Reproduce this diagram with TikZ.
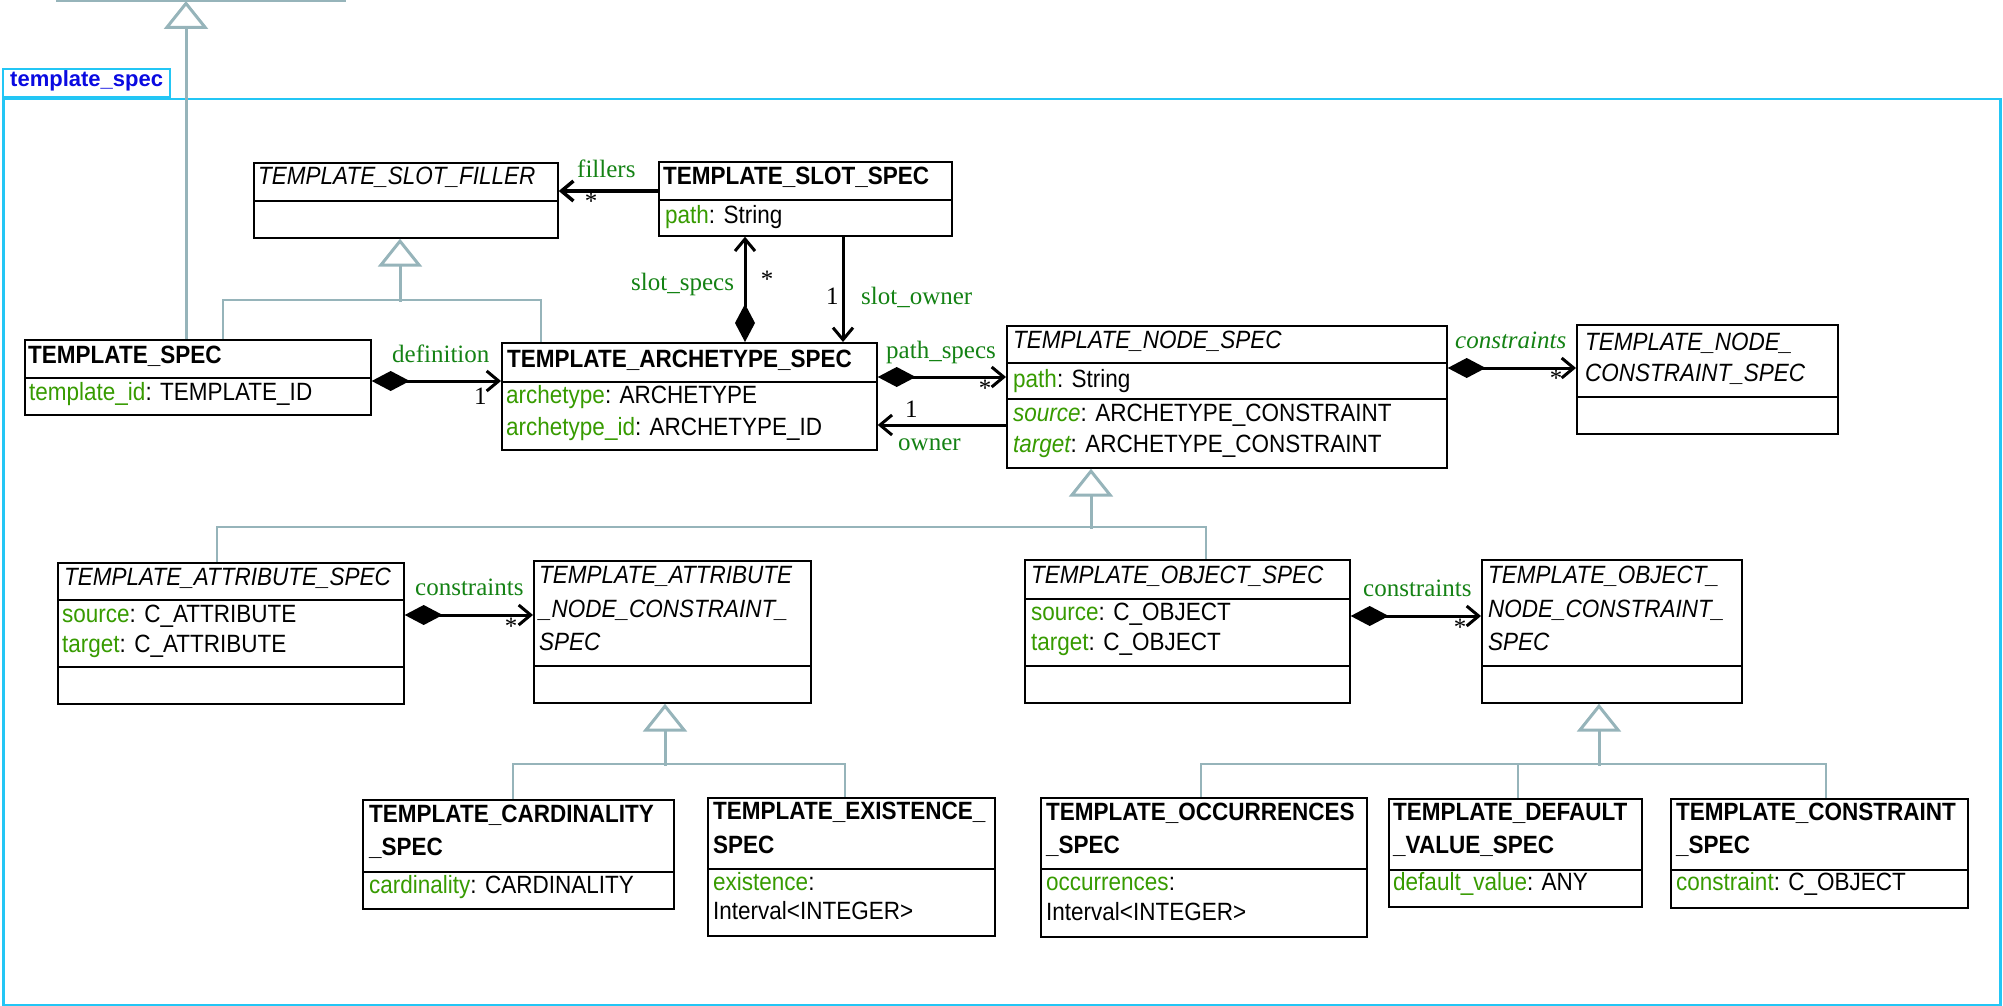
\documentclass[tikz,border=0pt]{standalone}
\usepackage{fontspec}
\setmainfont[FakeStretch=0.9]{Liberation Sans}
\newfontfamily\plainsans{Liberation Sans}
\newfontfamily\lblfont{Liberation Serif}
\usetikzlibrary{arrows.meta,calc}
\definecolor{pkg}{RGB}{35,198,245}
\definecolor{pkgtext}{RGB}{10,10,225}
\definecolor{genc}{RGB}{150,180,186}
\definecolor{agreen}{RGB}{55,155,0}
\definecolor{lgreen}{RGB}{20,130,20}
\newcommand{\at}[2]{\textcolor{agreen}{#1}: #2}
\newcommand{\ati}[2]{\textcolor{agreen}{\itshape #1}: #2}
\newcommand{\cbox}[6]{%
  \node[cls, minimum width=#4pt, minimum height=#5pt] (#1) at (#2,#3) {};
  \foreach \dd in {#6} {\draw[sep] ($(#1.north west)+(0,\dd)$) -- ($(#1.north east)+(0,\dd)$);}
}
\begin{document}
\begin{tikzpicture}[x=1pt,y=-1pt,
  cls/.style={draw=black, line width=1.7pt, fill=white, inner sep=0, anchor=north west},
  sep/.style={line width=1.7pt},
  txt/.style={inner sep=0, anchor=base west, font=\fontsize{25}{30}\selectfont},
  lbl/.style={inner sep=0, anchor=base west, text=lgreen, font=\lblfont\fontsize{25}{28}\selectfont},
  mult/.style={inner sep=0, anchor=base west, font=\lblfont\fontsize{25}{28}\selectfont},
  star/.style={inner sep=0, anchor=center, font=\lblfont\fontsize{25}{28}\selectfont},
  assoc/.style={line width=3pt, {Diamond[length=38pt,width=20pt]}-{Straight Barb[length=12pt,width=20pt]}},
  nav/.style={line width=3pt, -{Straight Barb[length=12pt,width=20pt]}},
  genl/.style={draw=genc, line width=2.2pt},
  gentip/.style={draw=genc, line width=3pt, -{Triangle[open, length=28pt, width=44pt, fill=white]}},
]
\useasboundingbox (0,0) rectangle (2003,1006);

% package
\node[draw=pkg, line width=2.5pt, minimum width=1997pt, minimum height=906pt, anchor=north west, inner sep=0] (pkgframe) at (2,98) {};
\node[draw=pkg, line width=2pt, fill=white, minimum width=167pt, minimum height=28pt, anchor=north west, inner sep=0] (pkgtab) at (2,68) {};
\node[inner sep=0, anchor=base west, text=pkgtext, font=\plainsans\bfseries\fontsize{22}{26}\selectfont] (pkgname) at (10,87) {template\_spec};

% parent outside the view
\coordinate (topL) at (56,1);
\coordinate (topR) at (346,1);
\coordinate (topapex) at (186,1);
\draw[genl] (topL) -- (topR);

% classes
\cbox{slotfiller}{253}{162}{304}{75}{39}
\cbox{slotspec}{658}{161}{293}{74}{39}
\cbox{templatespec}{24}{339}{346}{75}{39}
\cbox{archspec}{501}{342}{375}{107}{40}
\cbox{nodespec}{1006}{325}{440}{142}{38,74}
\cbox{nodeconstr}{1576}{324}{261}{109}{73}
\cbox{attrspec}{57}{562}{346}{141}{38,105}
\cbox{attrnodecon}{533}{560}{277}{142}{106}
\cbox{cardin}{362}{799}{311}{109}{73}
\cbox{exist}{707}{797}{287}{138}{72}
\cbox{objspec}{1024}{559}{325}{143}{40,107}
\cbox{objnodecon}{1481}{559}{260}{143}{107}
\cbox{occ}{1040}{797}{326}{139}{72}
\cbox{defv}{1388}{798}{253}{108}{72}
\cbox{constr}{1670}{798}{297}{109}{72}

% class texts
\node[txt] (slotfillerT) at (258,185) {\itshape TEMPLATE\_SLOT\_FILLER};
\node[txt] (slotspecT) at (663,184) {\bfseries TEMPLATE\_SLOT\_SPEC};
\node[txt] (slotspecA1) at (665,223) {\at{path}{String}};
\node[txt] (templatespecT) at (28,363) {\bfseries TEMPLATE\_SPEC};
\node[txt] (templatespecA1) at (29,400) {\at{template\_id}{TEMPLATE\_ID}};
\node[txt] (archspecT) at (507,367) {\bfseries TEMPLATE\_ARCHETYPE\_SPEC};
\node[txt] (archspecA1) at (506,403) {\at{archetype}{ARCHETYPE}};
\node[txt] (archspecA2) at (506,435) {\at{archetype\_id}{ARCHETYPE\_ID}};
\node[txt] (nodespecT) at (1013,348) {\itshape TEMPLATE\_NODE\_SPEC};
\node[txt] (nodespecA1) at (1013,387) {\at{path}{String}};
\node[txt] (nodespecA2) at (1013,421) {\ati{source}{ARCHETYPE\_CONSTRAINT}};
\node[txt] (nodespecA3) at (1013,452) {\ati{target}{ARCHETYPE\_CONSTRAINT}};
\node[txt] (nodeconstrT1) at (1585,350) {\itshape TEMPLATE\_NODE\_};
\node[txt] (nodeconstrT2) at (1585,381) {\itshape CONSTRAINT\_SPEC};
\node[txt] (attrspecT) at (64,585) {\itshape TEMPLATE\_ATTRIBUTE\_SPEC};
\node[txt] (attrspecA1) at (62,622) {\at{source}{C\_ATTRIBUTE}};
\node[txt] (attrspecA2) at (62,652) {\at{target}{C\_ATTRIBUTE}};
\node[txt] (attrnodeconT1) at (539,583) {\itshape TEMPLATE\_ATTRIBUTE};
\node[txt] (attrnodeconT2) at (539,617) {\itshape \_NODE\_CONSTRAINT\_};
\node[txt] (attrnodeconT3) at (539,650) {\itshape SPEC};
\node[txt] (cardinT1) at (369,822) {\bfseries TEMPLATE\_CARDINALITY};
\node[txt] (cardinT2) at (369,855) {\bfseries \_SPEC};
\node[txt] (cardinA1) at (369,893) {\at{cardinality}{CARDINALITY}};
\node[txt] (existT1) at (713,819) {\bfseries TEMPLATE\_EXISTENCE\_};
\node[txt] (existT2) at (713,853) {\bfseries SPEC};
\node[txt] (existA1) at (713,890) {\textcolor{agreen}{existence}:};
\node[txt] (existA2) at (713,919) {Interval<INTEGER>};
\node[txt] (objspecT) at (1031,583) {\itshape TEMPLATE\_OBJECT\_SPEC};
\node[txt] (objspecA1) at (1031,620) {\at{source}{C\_OBJECT}};
\node[txt] (objspecA2) at (1031,650) {\at{target}{C\_OBJECT}};
\node[txt] (objnodeconT1) at (1488,583) {\itshape TEMPLATE\_OBJECT\_};
\node[txt] (objnodeconT2) at (1488,617) {\itshape NODE\_CONSTRAINT\_};
\node[txt] (objnodeconT3) at (1488,650) {\itshape SPEC};
\node[txt] (occT1) at (1046,820) {\bfseries TEMPLATE\_OCCURRENCES};
\node[txt] (occT2) at (1046,853) {\bfseries \_SPEC};
\node[txt] (occA1) at (1046,890) {\textcolor{agreen}{occurrences}:};
\node[txt] (occA2) at (1046,920) {Interval<INTEGER>};
\node[txt] (defvT1) at (1393,820) {\bfseries TEMPLATE\_DEFAULT};
\node[txt] (defvT2) at (1393,853) {\bfseries \_VALUE\_SPEC};
\node[txt] (defvA1) at (1393,890) {\at{default\_value}{ANY}};
\node[txt] (constrT1) at (1676,820) {\bfseries TEMPLATE\_CONSTRAINT};
\node[txt] (constrT2) at (1676,853) {\bfseries \_SPEC};
\node[txt] (constrA1) at (1676,890) {\at{constraint}{C\_OBJECT}};

% generalizations
\draw[gentip] ($(templatespec.north west)+(162,0)$) -- (topapex);
\draw[genl] ($(templatespec.north west)+(199,0)$) |- ($(archspec.north west)+(40,-42)$) -- ($(archspec.north west)+(40,0)$);
\draw[gentip] ($(slotfiller.south west)+(147,63)$) -- ($(slotfiller.south west)+(147,0)$);

\draw[genl] ($(attrspec.north west)+(160,0)$) |- ($(objspec.north west)+(182,-32)$) -- ($(objspec.north west)+(182,0)$);
\draw[gentip] ($(nodespec.south west)+(85,60)$) -- ($(nodespec.south west)+(85,0)$);

\draw[genl] ($(cardin.north west)+(151,0)$) |- ($(exist.north west)+(138,-33)$) -- ($(exist.north west)+(138,0)$);
\draw[gentip] ($(attrnodecon.south west)+(132,62)$) -- ($(attrnodecon.south west)+(132,0)$);

\draw[genl] ($(occ.north west)+(161,0)$) |- ($(constr.north west)+(156,-34)$) -- ($(constr.north west)+(156,0)$);
\draw[genl] ($(defv.north west)+(130,0)$) -- ($(defv.north west)+(130,-34)$);
\draw[gentip] ($(objnodecon.south west)+(118,62)$) -- ($(objnodecon.south west)+(118,0)$);

% associations
\draw[nav, line width=3.5pt] ($(slotspec.north west)+(0,30)$) -- ($(slotfiller.north east)+(0,29)$);
\node[lbl] (fillersL) at (577,178) {fillers};
\node[star] (fillersM) at (591,201) {*};

\draw[assoc] ($(archspec.north west)+(244,0)$) -- ($(slotspec.south west)+(87,0)$);
\node[lbl] (slotspecsL) at (631,290) {slot\_specs};
\node[star] (slotspecsM) at (767,279) {*};

\draw[nav] ($(slotspec.south west)+(185,0)$) -- ($(archspec.north west)+(342,0)$);
\node[mult] (slotownerM) at (826,304) {1};
\node[lbl] (slotownerL) at (861,304) {slot\_owner};

\draw[assoc] ($(templatespec.north east)+(0,42)$) -- ($(archspec.north west)+(0,39)$);
\node[lbl] (definitionL) at (392,362) {definition};
\node[mult] (definitionM) at (474,404) {1};

\draw[assoc] ($(archspec.north east)+(0,35)$) -- ($(nodespec.north west)+(0,52)$);
\node[lbl] (pathspecsL) at (886,358) {path\_specs};
\node[star] (pathspecsM) at (985,388) {*};

\draw[nav] ($(nodespec.north west)+(0,100)$) -- ($(archspec.north east)+(0,83)$);
\node[mult] (ownerM) at (905,417) {1};
\node[lbl] (ownerL) at (898,450) {owner};

\draw[assoc] ($(nodespec.north east)+(0,43)$) -- ($(nodeconstr.north west)+(0,44)$);
\node[lbl, font=\lblfont\itshape\fontsize{25}{28}\selectfont] (nodeconsL) at (1455,348) {constraints};
\node[star] (nodeconsM) at (1556,378) {*};

\draw[assoc] ($(attrspec.north east)+(0,53)$) -- ($(attrnodecon.north west)+(0,55)$);
\node[lbl] (attrconsL) at (415,595) {constraints};
\node[star] (attrconsM) at (511,626) {*};

\draw[assoc] ($(objspec.north east)+(0,57)$) -- ($(objnodecon.north west)+(0,57)$);
\node[lbl] (objconsL) at (1363,596) {constraints};
\node[star] (objconsM) at (1460,627) {*};
\end{tikzpicture}
\end{document}
